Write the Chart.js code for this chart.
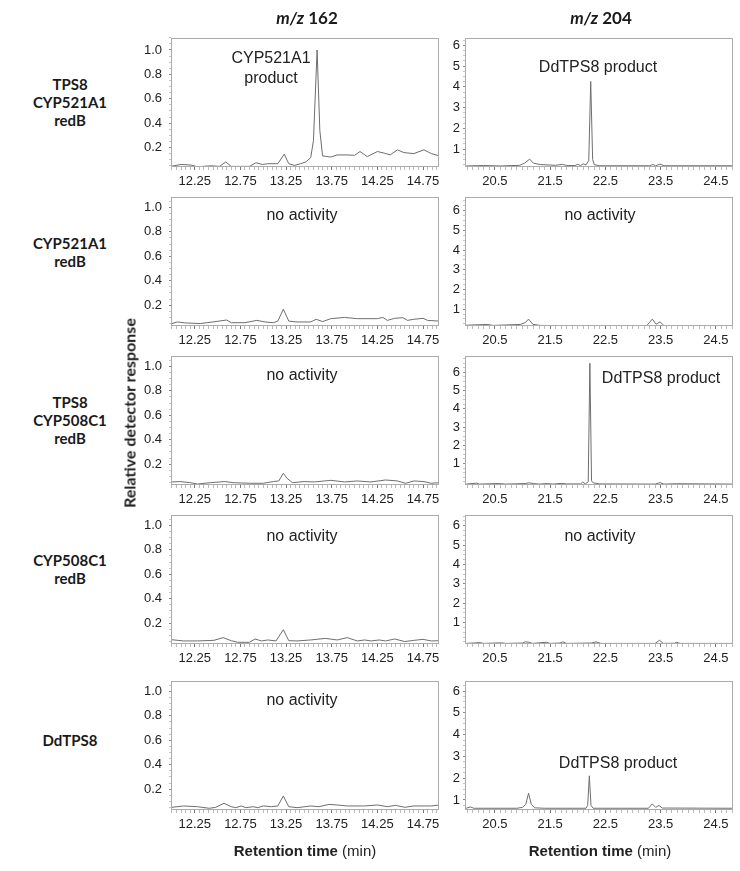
<!DOCTYPE html>
<html><head><meta charset="utf-8">
<script src="https://cdn.jsdelivr.net/npm/chart.js@4.4.1/dist/chart.umd.min.js"></script>
<style>
html,body{margin:0;padding:0;background:#fff;}
body{width:740px;height:871px;position:relative;overflow:hidden;font-family:"Liberation Sans",Arial,sans-serif;color:#222;}
canvas{position:absolute;}
.t{position:absolute;white-space:nowrap;transform:translate(-50%,-50%);text-align:center;}
.rowlab{font-family:Lato,"Open Sans",sans-serif;font-weight:700;font-size:15px;line-height:18px;color:#1a1a1a;}
.ann{font-size:16px;line-height:20px;color:#222;}
.head{font-family:Lato,"Open Sans",sans-serif;font-weight:700;font-size:17px;color:#1a1a1a;}
.ytitle{font-family:Lato,"Open Sans",sans-serif;font-weight:700;font-size:16px;color:#1a1a1a;transform:translate(-50%,-50%) rotate(-90deg);}
.xtitle{font-size:15px;color:#222;}
</style></head><body>
<script>
// ---------- text / categories ----------
const columnTitles = ["162", "204"];
const rowLabels = [["TPS8","CYP521A1","redB"],["CYP521A1","redB"],["TPS8","CYP508C1","redB"],["CYP508C1","redB"],["DdTPS8"]];
const annot162 = [["CYP521A1","product"],["no activity"],["no activity"],["no activity"],["no activity"]];
const annot204 = [["DdTPS8 product"],["no activity"],["DdTPS8 product"],["no activity"],["DdTPS8 product"]];
const yTitle = "Relative detector response";
const xTitleBold = "Retention time", xTitleUnit = "(min)";

// ---------- tick labels ----------
const leftXTickLabels = [12.25, 12.75, 13.25, 13.75, 14.25, 14.75];
const rightXTickLabels = [20.5, 21.5, 22.5, 23.5, 24.5];
const leftYTickLabels = [0.2, 0.4, 0.6, 0.8, 1.0];
const rightYTickLabels = [1, 2, 3, 4, 5, 6];

// ---------- series: m/z 162 (time, response) ----------
const t162_1 = [12.0,12.1,12.21,12.28,12.43,12.52,12.59,12.65,12.85,12.92,12.99,13.05,13.16,13.23,13.28,13.34,13.41,13.47,13.52,13.55,13.59,13.62,13.65,13.74,13.81,13.92,14.0,14.06,14.14,14.25,14.33,14.39,14.47,14.54,14.65,14.76,14.84,14.93];
const v162_1 = [0.047,0.061,0.056,0.042,0.05,0.045,0.081,0.045,0.045,0.075,0.061,0.067,0.067,0.145,0.067,0.053,0.067,0.083,0.117,0.256,1.0,0.339,0.131,0.122,0.139,0.139,0.136,0.167,0.125,0.167,0.153,0.139,0.181,0.158,0.15,0.181,0.15,0.131];
const t162_2 = [12.0,12.06,12.15,12.31,12.45,12.6,12.65,12.8,12.93,13.02,13.11,13.16,13.22,13.28,13.37,13.52,13.58,13.65,13.74,13.89,14.03,14.18,14.25,14.31,14.36,14.44,14.53,14.58,14.65,14.75,14.8,14.93];
const v162_2 = [0.05,0.063,0.055,0.05,0.063,0.079,0.057,0.057,0.076,0.063,0.057,0.07,0.167,0.07,0.063,0.063,0.085,0.066,0.09,0.1,0.09,0.09,0.09,0.1,0.076,0.093,0.098,0.076,0.085,0.093,0.076,0.07];
const t162_3 = [12.0,12.09,12.2,12.28,12.42,12.58,12.67,12.86,13.0,13.11,13.17,13.22,13.26,13.32,13.45,13.56,13.74,13.89,14.03,14.18,14.34,14.47,14.56,14.65,14.76,14.84,14.93];
const v162_3 = [0.055,0.058,0.049,0.038,0.049,0.058,0.049,0.044,0.044,0.058,0.063,0.126,0.085,0.049,0.058,0.055,0.068,0.055,0.063,0.055,0.071,0.063,0.044,0.063,0.058,0.044,0.049];
const t162_4 = [12.0,12.13,12.28,12.46,12.56,12.65,12.72,12.85,12.91,12.98,13.05,13.14,13.22,13.28,13.37,13.52,13.68,13.81,13.92,14.03,14.11,14.18,14.27,14.34,14.44,14.55,14.65,14.75,14.84,14.93];
const v162_4 = [0.065,0.055,0.055,0.06,0.082,0.057,0.044,0.044,0.071,0.055,0.063,0.055,0.147,0.057,0.055,0.063,0.076,0.063,0.082,0.055,0.063,0.055,0.063,0.055,0.071,0.05,0.06,0.068,0.055,0.057];
const t162_5 = [12.0,12.13,12.28,12.41,12.48,12.57,12.65,12.7,12.76,12.81,12.89,12.94,13.0,13.09,13.16,13.22,13.28,13.37,13.52,13.61,13.72,13.81,13.92,14.11,14.25,14.36,14.45,14.55,14.65,14.84,14.93];
const v162_5 = [0.052,0.063,0.057,0.044,0.052,0.085,0.057,0.049,0.063,0.049,0.057,0.049,0.063,0.057,0.063,0.145,0.057,0.049,0.063,0.057,0.076,0.071,0.063,0.063,0.071,0.057,0.068,0.052,0.063,0.063,0.071];

// ---------- series: m/z 204 (time, response) ----------
const t204_1 = [19.98,20.3,20.6,20.95,21.04,21.13,21.2,21.32,21.6,21.72,21.8,21.95,22.0,22.05,22.1,22.15,22.2,22.235,22.27,22.3,22.4,23.3,23.36,23.41,23.49,23.56,24.79];
const v204_1 = [0.19,0.21,0.19,0.22,0.33,0.52,0.32,0.26,0.22,0.27,0.21,0.21,0.27,0.21,0.29,0.24,0.45,4.26,0.5,0.25,0.2,0.2,0.26,0.2,0.28,0.2,0.2];
const t204_2 = [19.98,20.36,20.47,20.96,21.05,21.11,21.19,21.32,21.68,23.25,23.35,23.42,23.49,23.56,24.79];
const v204_2 = [0.18,0.22,0.17,0.22,0.31,0.49,0.22,0.17,0.16,0.16,0.49,0.23,0.35,0.16,0.16];
const t204_3 = [19.98,20.17,20.22,20.56,20.7,21.05,21.12,21.2,21.3,21.45,21.55,21.7,21.8,22.05,22.09,22.14,22.19,22.22,22.25,22.28,22.4,23.4,23.49,23.56,23.79,24.79];
const v204_3 = [-0.13,-0.08,-0.13,-0.1,-0.13,-0.1,-0.06,-0.1,-0.13,-0.1,-0.13,-0.09,-0.12,-0.12,-0.02,-0.12,0.0,6.5,0.05,-0.06,-0.12,-0.13,-0.05,-0.13,-0.11,-0.13];
const t204_4 = [19.98,20.23,20.3,20.62,20.7,21.0,21.05,21.12,21.18,21.43,21.5,21.68,21.73,21.8,22.25,22.33,22.42,23.4,23.48,23.55,23.75,23.79,23.85,24.79];
const v204_4 = [-0.08,-0.04,-0.08,-0.05,-0.08,-0.06,0.0,-0.02,-0.08,-0.02,-0.08,-0.06,0.0,-0.08,-0.06,0.0,-0.08,-0.08,0.08,-0.08,-0.07,-0.02,-0.08,-0.08];
const t204_5 = [19.98,20.06,20.12,20.9,21.0,21.06,21.11,21.16,21.22,21.4,22.15,22.18,22.21,22.24,22.28,23.28,23.35,23.41,23.47,23.53,24.79];
const v204_5 = [0.62,0.68,0.62,0.62,0.66,0.8,1.31,0.8,0.64,0.62,0.62,0.75,2.11,0.75,0.62,0.62,0.82,0.66,0.75,0.63,0.62];

// ---------- axis ranges ----------
const leftXRange = [11.99, 14.925];
const rightXRange = [19.96, 24.81];
const leftYMin = [0.04, 0.03, 0.03, 0.03, 0.03];
const leftYMax = [1.10, 1.087, 1.087, 1.087, 1.087];
const rightYMin = [0.14, 0.14, -0.18, -0.11, 0.54];
const rightYMax = [6.35, 6.7, 6.9, 6.56, 6.46];

const series162 = [[t162_1,v162_1],[t162_2,v162_2],[t162_3,v162_3],[t162_4,v162_4],[t162_5,v162_5]];
const series204 = [[t204_1,v204_1],[t204_2,v204_2],[t204_3,v204_3],[t204_4,v204_4],[t204_5,v204_5]];

// ---------- layout ----------
const L = {
  leftX: 171, rightX: 465, w: 268, h: 129,
  tops: [38, 197, 356, 515, 681],
  rowLabelX: 70, rowLabelY: [102, 251.5, 420, 569, 740],
  headY: 17, headX: [307, 601],
  yTitleX: 129, yTitleY: 413,
  xTitleY: 850, xTitleX: [305, 600],
  ann162: [[271, 68], [302, 215], [302, 375], [302, 536], [302, 700]],
  ann204: [[598, 67], [600, 215], [661, 378], [600, 536], [618, 763]]
};

function addText(cls, html, x, y) {
  const d = document.createElement('div');
  d.className = 't ' + cls; d.innerHTML = html;
  d.style.left = x + 'px'; d.style.top = y + 'px';
  document.body.appendChild(d);
}

const boxPlugin = {
  id: 'box',
  afterDraw(chart) {
    const {ctx, chartArea: a} = chart;
    ctx.save();
    ctx.strokeStyle = '#ababab'; ctx.lineWidth = 1;
    ctx.strokeRect(Math.round(a.left) + 0.5, Math.round(a.top) + 0.5,
                   Math.round(a.right - a.left) - 1, Math.round(a.bottom - a.top) - 1);
    ctx.restore();
  }
};

function stepsIn(min, max, step) {
  const out = [];
  for (let k = Math.ceil(min / step - 1e-9); k * step <= max + 1e-9; k++) out.push(+(k * step).toFixed(4));
  return out;
}
const isIn = (arr, v) => arr.some(a => Math.abs(a - v) < 1e-6);

const PADL = 44, PADT = 12, PADR = 10, XH = 32;

function buildChart(left, top, pts, xr, yr, xLabels, yLabels, xStep, yStep, yPad, cw, ch) {
  const c = document.createElement('canvas');
  c.width = cw; c.height = ch;
  document.body.appendChild(c);
  const font = {family: '"Liberation Sans", Arial, sans-serif', size: 13};
  const chart = new Chart(c, {
    type: 'line',
    data: {datasets: [{data: pts, borderColor: '#6e6e6e', borderWidth: 1, pointRadius: 0, tension: 0, fill: false}]},
    options: {
      responsive: false, animation: false, devicePixelRatio: 1,
      layout: {padding: {left: 0, top: PADT, right: PADR, bottom: 0}},
      plugins: {legend: {display: false}, tooltip: {enabled: false}},
      scales: {
        x: {
          type: 'linear', min: xr[0], max: xr[1],
          afterBuildTicks: s => { s.ticks = stepsIn(xr[0], xr[1], xStep).map(v => ({value: v})); },
          afterFit: s => { s.height = XH; },
          ticks: {autoSkip: false, maxRotation: 0, minRotation: 0, font, color: '#222', padding: 4,
                  callback: v => isIn(xLabels, v) ? String(v) : ''},
          grid: {drawOnChartArea: false, drawTicks: true, tickLength: 3, tickWidth: 1,
                 tickColor: ctx => (ctx.tick && isIn(xLabels, ctx.tick.value)) ? '#777' : '#bbb'},
          border: {display: false}
        },
        y: {
          type: 'linear', min: yr[0], max: yr[1],
          afterBuildTicks: s => { s.ticks = stepsIn(yr[0], yr[1], yStep).map(v => ({value: v})); },
          afterFit: s => { s.width = PADL; },
          ticks: {autoSkip: false, font, color: '#222', padding: yPad,
                  callback: v => isIn(yLabels, v) ? (yLabels === leftYTickLabels ? v.toFixed(1) : String(v)) : ''},
          grid: {drawOnChartArea: false, drawTicks: true, tickLength: 2, tickWidth: 1,
                 tickColor: ctx => (ctx.tick && isIn(yLabels, ctx.tick.value)) ? '#888' : '#c4c4c4'},
          border: {display: false}
        }
      }
    },
    plugins: [boxPlugin]
  });
  return {c, chart};
}

function makePanel(left, top, series, xr, yr, xLabels, yLabels, xStep, yStep, yPad) {
  const pts = series[0].map((t, i) => ({x: t, y: series[1][i]}));
  let cw = PADL + L.w + PADR, ch = PADT + L.h + XH;
  let r = buildChart(left, top, pts, xr, yr, xLabels, yLabels, xStep, yStep, yPad, cw, ch);
  let a = r.chart.chartArea;
  const dw = Math.round(L.w - (a.right - a.left)), dh = Math.round(L.h - (a.bottom - a.top));
  if (dw !== 0 || dh !== 0) {
    r.chart.destroy(); r.c.remove();
    r = buildChart(left, top, pts, xr, yr, xLabels, yLabels, xStep, yStep, yPad, cw + dw, ch + dh);
    a = r.chart.chartArea;
  }
  r.c.style.left = (left - Math.round(a.left)) + 'px';
  r.c.style.top = (top - Math.round(a.top)) + 'px';
}

for (let i = 0; i < 5; i++) {
  makePanel(L.leftX, L.tops[i], series162[i], leftXRange, [leftYMin[i], leftYMax[i]],
            leftXTickLabels, leftYTickLabels, 0.05, 0.05, 7);
  makePanel(L.rightX, L.tops[i], series204[i], rightXRange, [rightYMin[i], rightYMax[i]],
            rightXTickLabels, rightYTickLabels, 0.1, 0.25, 3);
  addText('rowlab', rowLabels[i].join('<br>'), L.rowLabelX, L.rowLabelY[i]);
  addText('ann', annot162[i].join('<br>'), L.ann162[i][0], L.ann162[i][1]);
  addText('ann', annot204[i].join('<br>'), L.ann204[i][0], L.ann204[i][1]);
}
columnTitles.forEach((c, j) => addText('head', '<i>m/z</i> ' + c, L.headX[j], L.headY));
addText('ytitle', yTitle, L.yTitleX, L.yTitleY);
L.xTitleX.forEach(x => addText('xtitle', '<b>' + xTitleBold + '</b> ' + xTitleUnit, x, L.xTitleY));
</script>
</body></html>
